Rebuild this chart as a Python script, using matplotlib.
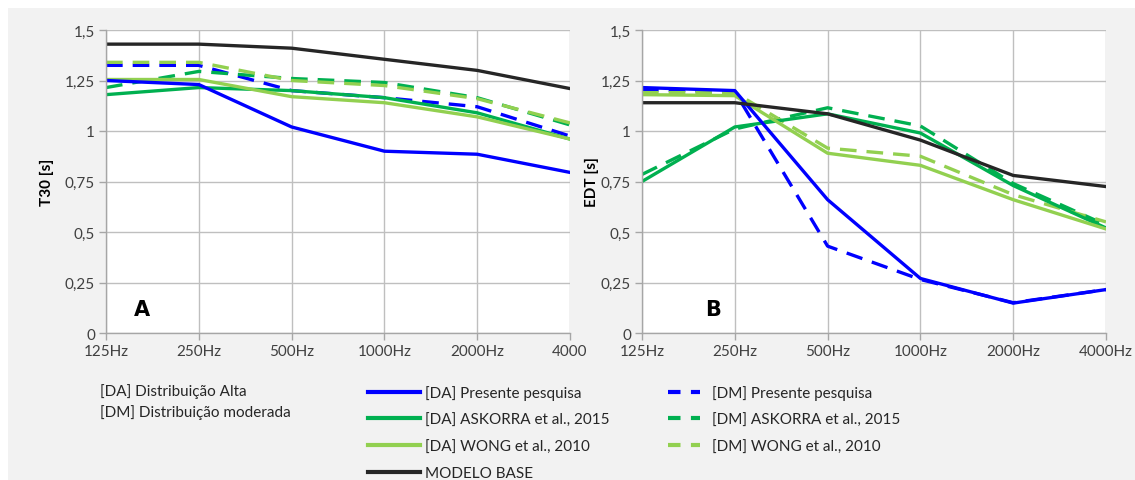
import numpy as np
import matplotlib
matplotlib.use('Agg')
import matplotlib.pyplot as plt
from matplotlib.lines import Line2D
from matplotlib.patches import Rectangle

plt.rcParams['font.family'] = ['Lato', 'DejaVu Sans']

freqs = ['125Hz', '250Hz', '500Hz', '1000Hz', '2000Hz', '4000Hz']

# T30 [s]  (painel A)
t30_da_presente = [1.25, 1.23, 1.02, 0.90, 0.885, 0.795]
t30_dm_presente = [1.325, 1.325, 1.20, 1.165, 1.12, 0.975]
t30_da_askorra = [1.18, 1.215, 1.20, 1.165, 1.09, 0.96]
t30_dm_askorra = [1.215, 1.295, 1.26, 1.24, 1.165, 1.03]
t30_da_wong = [1.255, 1.255, 1.17, 1.14, 1.07, 0.96]
t30_dm_wong = [1.34, 1.34, 1.25, 1.225, 1.16, 1.04]
t30_base = [1.43, 1.43, 1.41, 1.355, 1.30, 1.21]

# EDT [s]  (painel B)
edt_da_presente = [1.215, 1.20, 0.66, 0.27, 0.148, 0.215]
edt_dm_presente = [1.205, 1.195, 0.43, 0.265, 0.15, 0.215]
edt_da_askorra = [0.75, 1.02, 1.085, 0.99, 0.73, 0.52]
edt_dm_askorra = [0.785, 1.01, 1.115, 1.025, 0.74, 0.535]
edt_da_wong = [1.18, 1.175, 0.89, 0.83, 0.66, 0.515]
edt_dm_wong = [1.19, 1.19, 0.915, 0.875, 0.685, 0.55]
edt_base = [1.14, 1.14, 1.085, 0.955, 0.78, 0.725]

yticks = [0, 0.25, 0.5, 0.75, 1, 1.25, 1.5]
ytick_labels = ['0', '0,25', '0,5', '0,75', '1', '1,25', '1,5']

BLUE = '#0000ff'
GREEN = '#00b050'
LGREEN = '#92d050'
DARK = '#262626'
GRID = '#bfbfbf'
LW = 2.4
DASH = (5, 3)

fig = plt.figure(figsize=(11.35, 4.81), dpi=100)
fig.patch.set_facecolor('white')
fig.add_artist(Rectangle((8 / 1135, 0), 1, 1 - 9 / 481, transform=fig.transFigure,
                         facecolor='#f2f2f2', edgecolor='none', zorder=-10))

axA = fig.add_axes([106 / 1135, 1 - 334 / 481, 464 / 1135, 303 / 481])
axB = fig.add_axes([642 / 1135, 1 - 334 / 481, 464 / 1135, 303 / 481])

x = np.arange(len(freqs))


def draw(ax, series, ylabel, letter, letter_x, last_label):
    for vals, col, dashed in series:
        if dashed:
            ax.plot(x, vals, color=col, lw=LW, dashes=DASH, solid_capstyle='butt')
        else:
            ax.plot(x, vals, color=col, lw=LW)
    ax.set_xlim(0, len(freqs) - 1)
    ax.set_ylim(0, 1.5)
    ax.set_yticks(yticks)
    ax.set_yticklabels(ytick_labels)
    ax.set_xticks(x)
    labels = list(freqs)
    labels[-1] = last_label
    ax.set_xticklabels(labels)
    ax.grid(True, color=GRID, lw=1.0)
    ax.set_axisbelow(True)
    for s in ['top', 'right']:
        ax.spines[s].set_visible(False)
    for s in ['left', 'bottom']:
        ax.spines[s].set_color('#a6a6a6')
        ax.spines[s].set_linewidth(1.0)
    ax.tick_params(axis='both', colors='#a6a6a6', length=5, width=1, labelcolor='#404040',
                   labelsize=11, pad=3)
    ax.set_ylabel(ylabel, fontsize=11, fontweight='bold', color='black')
    ax.text(letter_x, 0.079, letter, transform=ax.transAxes, fontsize=15, fontweight='bold',
            family=['DejaVu Sans'], va='center', ha='center')


draw(axA, [(t30_dm_presente, BLUE, True), (t30_dm_askorra, GREEN, True),
           (t30_dm_wong, LGREEN, True), (t30_da_askorra, GREEN, False),
           (t30_da_wong, LGREEN, False), (t30_da_presente, BLUE, False),
           (t30_base, DARK, False)], 'T30 [s]', 'A', 36 / 464, '4000')
draw(axB, [(edt_dm_presente, BLUE, True), (edt_dm_askorra, GREEN, True),
           (edt_dm_wong, LGREEN, True), (edt_da_askorra, GREEN, False),
           (edt_da_wong, LGREEN, False), (edt_da_presente, BLUE, False),
           (edt_base, DARK, False)], 'EDT [s]', 'B', 71 / 464, '4000Hz')

axA.yaxis.set_label_coords(-52 / 464, 0.5)
axB.yaxis.set_label_coords(-43 / 464, 0.5)

# legenda
fig.text(100 / 1135, 1 - 392 / 481, '[DA] Distribuição Alta', fontsize=11, va='center', color='#262626')
fig.text(100 / 1135, 1 - 413 / 481, '[DM] Distribuição moderada', fontsize=11, va='center', color='#262626')

h_col2 = [Line2D([], [], color=BLUE, lw=3), Line2D([], [], color=GREEN, lw=3),
          Line2D([], [], color=LGREEN, lw=3), Line2D([], [], color=DARK, lw=3)]
l_col2 = ['[DA] Presente pesquisa', '[DA] ASKORRA et al., 2015',
          '[DA] WONG et al., 2010', 'MODELO BASE']
h_col3 = [Line2D([], [], color=BLUE, lw=3, dashes=(3, 2.5)),
          Line2D([], [], color=GREEN, lw=3, dashes=(3, 2.5)),
          Line2D([], [], color=LGREEN, lw=3, dashes=(3, 2.5))]
l_col3 = ['[DM] Presente pesquisa', '[DM] ASKORRA et al., 2015', '[DM] WONG et al., 2010']

leg_kw = dict(frameon=False, fontsize=11, handlelength=3.4, handletextpad=0.3,
              labelspacing=0.83, borderaxespad=0, borderpad=0, labelcolor='#262626')
fig.legend(h_col2, l_col2, loc='upper left', bbox_to_anchor=(368 / 1135, 1 - 386 / 481), **leg_kw)
leg_kw['handlelength'] = 2.1
leg_kw['handletextpad'] = 0.75
fig.legend(h_col3, l_col3, loc='upper left', bbox_to_anchor=(668 / 1135, 1 - 386 / 481), **leg_kw)

fig.savefig('out.png', dpi=100, facecolor=fig.get_facecolor())
